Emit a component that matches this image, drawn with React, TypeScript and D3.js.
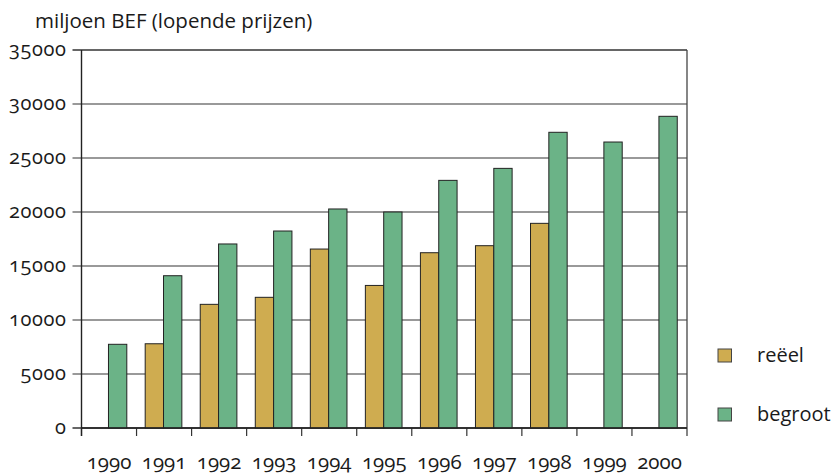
import React from "react";
import * as d3 from "d3";

const years = ["1990","1991","1992","1993","1994","1995","1996","1997","1998","1999","2000"];
const reeel: (number | null)[] = [null, 7800, 11450, 12100, 16570, 13200, 16230, 16880, 18950, null, null];
const begroot: number[] = [7750, 14100, 17040, 18240, 20280, 20000, 22930, 24040, 27380, 26480, 28860];
const yTicks = [0, 5000, 10000, 15000, 20000, 25000, 30000, 35000];
const seriesNames = ["reëel", "begroot"];
const colors = ["#cfac50", "#6bb387"];

const W = 834, H = 474;
const left = 81.5, right = 687, top = 50, bottom = 428;
const font = "'Open Sans', sans-serif";

export default function App() {
  const x = d3.scaleBand<string>().domain(years).range([left, right]);
  const y = d3.scaleLinear().domain([0, 35000]).range([bottom, top]);
  const bw = x.bandwidth();
  const barW = bw * 0.333;
  const off0 = bw * 0.157;

  return (
    <svg width={W} height={H} style={{ position: "absolute", left: 0, top: 0, fontFamily: font, fontVariantNumeric: "oldstyle-nums" }}>
      <rect width={W} height={H} fill="#fff" />
      <text x={35} y={28} fontSize={20.5} fill="#1a1a1a">miljoen BEF (lopende prijzen)</text>
      {yTicks.map((t) => (
        <g key={t}>
          <line x1={left - 9} x2={right} y1={y(t)} y2={y(t)}
            stroke={t === 35000 || t === 0 ? "#333" : "#777"} strokeWidth={t === 35000 ? 1.6 : 1.3} />
          <text x={66.5} y={y(t)} dy="0.3em" textAnchor="end" fontSize={20} letterSpacing={0.6} fill="#1a1a1a">{t}</text>
        </g>
      ))}
      <line x1={right} x2={right} y1={top} y2={bottom} stroke="#444" strokeWidth={1.3} />
      {years.map((yr, i) => {
        const x0 = x(yr)!;
        return (
          <g key={yr}>
            {reeel[i] != null && (
              <rect x={x0 + off0} y={y(reeel[i] as number)} width={barW} height={bottom - y(reeel[i] as number)}
                fill={colors[0]} stroke="#222" strokeWidth={1} />
            )}
            <rect x={x0 + off0 + barW} y={y(begroot[i])} width={barW} height={bottom - y(begroot[i])}
              fill={colors[1]} stroke="#222" strokeWidth={1} />
            <text x={x0 + bw / 2} y={469} textAnchor="middle" fontSize={20.5} fill="#1a1a1a">{yr}</text>
          </g>
        );
      })}
      {[...years.map((yr) => x(yr)!), right].map((tx, i) => (
        <line key={i} x1={tx} x2={tx} y1={bottom} y2={bottom + 8} stroke="#333" strokeWidth={1.2} />
      ))}
      <line x1={left} x2={right} y1={bottom} y2={bottom} stroke="#222" strokeWidth={1.4} />
      <line x1={left} x2={left} y1={top} y2={bottom + 8} stroke="#222" strokeWidth={1.4} />
      {seriesNames.map((n, i) => (
        <g key={n}>
          <rect x={718} y={349 + i * 59} width={13.5} height={13} fill={colors[i]} stroke="#444" strokeWidth={1} />
          <text x={757} y={356 + i * 59} dy="0.3em" fontSize={20} fill="#1a1a1a">{n}</text>
        </g>
      ))}
    </svg>
  );
}
